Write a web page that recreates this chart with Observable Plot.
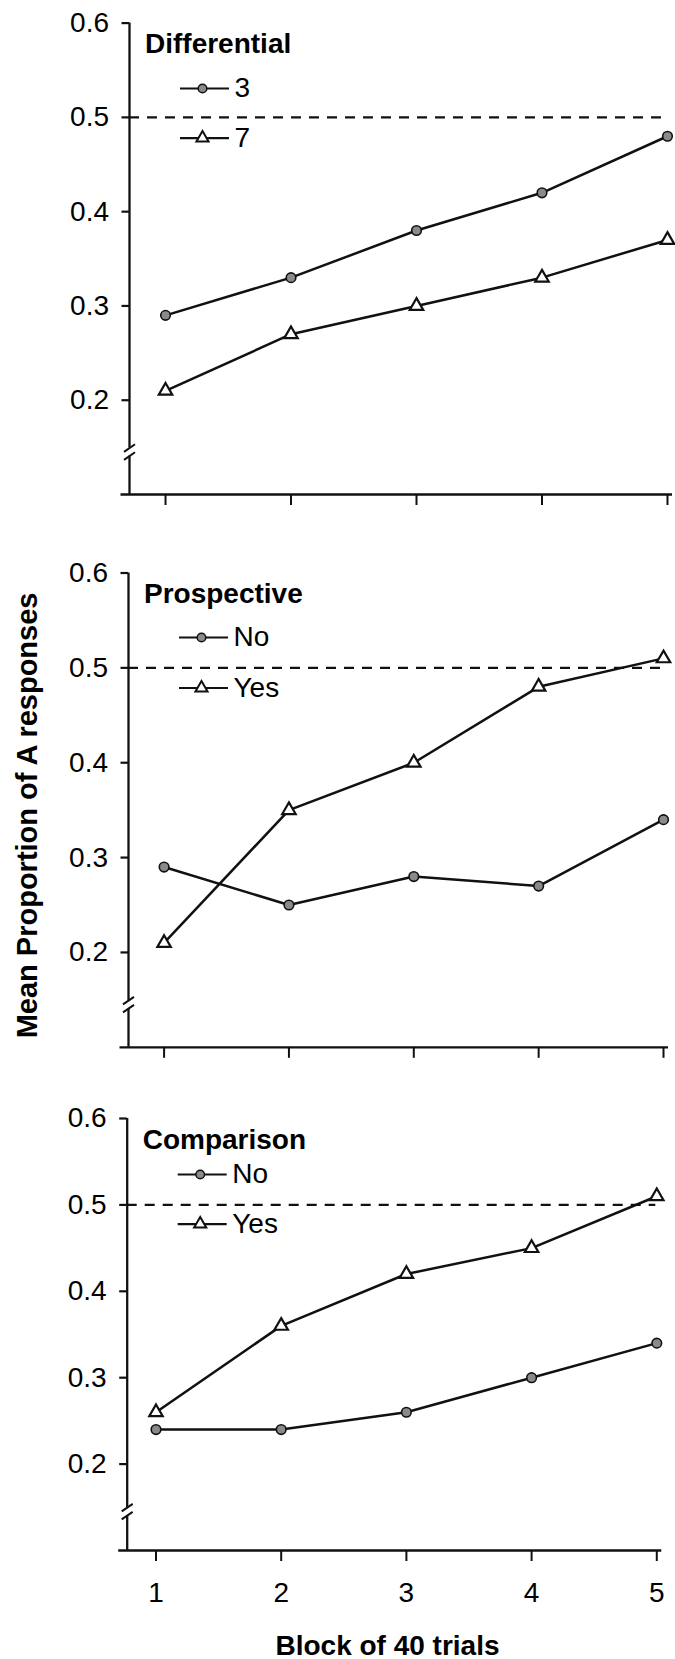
<!DOCTYPE html>
<html>
<head>
<meta charset="utf-8">
<script src="https://cdn.jsdelivr.net/npm/d3@7"></script>
<script src="https://cdn.jsdelivr.net/npm/@observablehq/plot@0.6"></script>
<style>
  html, body { margin: 0; padding: 0; background: #fff; }
  #chart { position: relative; width: 675px; height: 1659px; background: #fff; }
  #chart > div { position: absolute; left: 0; }
</style>
</head>
<body>
<div id="chart"></div>
<script>
// ---- data ----
const blocks = [1, 2, 3, 4, 5];
const yTicks = [0.2, 0.3, 0.4, 0.5, 0.6];
const panelTitles = ["Differential", "Prospective", "Comparison"];

const differentialSeries = ["3", "7"];
const differential3 = [0.29, 0.33, 0.38, 0.42, 0.48];
const differential7 = [0.21, 0.27, 0.30, 0.33, 0.37];

const prospectiveSeries = ["No", "Yes"];
const prospectiveNo = [0.29, 0.25, 0.28, 0.27, 0.34];
const prospectiveYes = [0.21, 0.35, 0.40, 0.48, 0.51];

const comparisonSeries = ["No", "Yes"];
const comparisonNo = [0.24, 0.24, 0.26, 0.30, 0.34];
const comparisonYes = [0.26, 0.36, 0.42, 0.45, 0.51];

const chanceLevel = 0.5;
const axisBase = 0.1;
const axisTop = 0.6;
const breakAt = 0.145;

const yTitle = "Mean Proportion of A responses";
const xTitle = "Block of 40 trials";

// ---- drawing ----
const FONT = "'Liberation Sans', Arial, Helvetica, sans-serif";
const INK = "#111";
const W = 675;
const TXT = 28;

// horizontal line symbol used for the legend keys
const hline = {
  draw(ctx, size) {
    const h = Math.sqrt(size / Math.PI);
    ctx.moveTo(-h, 0);
    ctx.lineTo(h, 0);
  }
};

function panel(cfg) {
  const {title, names, values, top, height, mL, mR, mT, mB, xDomain,
         titleDy, legendDy, xLabels, extra} = cfg;
  const rows = names.flatMap((name, i) =>
    blocks.map((b, j) => ({series: name, kind: i, block: b, value: values[i][j]})));
  const pxX = (W - mL - mR) / (xDomain[1] - xDomain[0]);
  const pxY = (height - mT - mB) / (axisTop - axisBase);
  const ax = xDomain[0];
  const gap = 4 / pxY;
  const sx = 5.5 / pxX, sy = 3.8 / pxY;
  const legend = names.map((name, i) => ({name, i, dy: legendDy[i]}));

  const marks = [
    // axis lines with break
    Plot.ruleX([ax], {y1: axisBase, y2: breakAt - gap, stroke: INK, strokeWidth: 2.3}),
    Plot.ruleX([ax], {y1: breakAt + gap, y2: axisTop, stroke: INK, strokeWidth: 2.3}),
    Plot.link([-1, 1], {x1: ax - sx, x2: ax + sx,
      y1: d => breakAt + d * gap - sy, y2: d => breakAt + d * gap + sy,
      stroke: INK, strokeWidth: 2}),
    Plot.ruleY([axisBase], {insetLeft: -8.5, stroke: INK, strokeWidth: 2.3}),
    Plot.ruleY([chanceLevel], {stroke: INK, strokeWidth: 2.3, strokeDasharray: "10,8", insetRight: 6}),
    Plot.axisY({ticks: yTicks, label: null, tickSize: 7.5, tickPadding: 13, tickFormat: d3.format(".1f"),
      fontSize: TXT, stroke: INK, strokeWidth: 2.2, fill: "#000"}),
    Plot.axisX({ticks: blocks, label: null, tickSize: 11, tickPadding: 21,
      tickFormat: xLabels ? (d => String(d)) : (() => ""),
      fontSize: TXT, stroke: INK, strokeWidth: 2, fill: "#000"}),
    // data
    Plot.line(rows, {x: "block", y: "value", z: "series", stroke: INK, strokeWidth: 2.5}),
    Plot.dot(rows.filter(d => d.kind === 0), {x: "block", y: "value", symbol: "circle", r: 4.8,
      fill: "#8a8a8a", stroke: INK, strokeWidth: 1.6}),
    Plot.dot(rows.filter(d => d.kind === 1), {x: "block", y: "value", symbol: "triangle", r: 5,
      fill: "white", stroke: INK, strokeWidth: 2.2}),
    // panel title
    Plot.text([title], {frameAnchor: "top-left", dx: 15.5, dy: titleDy, lineAnchor: "bottom",
      textAnchor: "start", fontWeight: "bold", fontSize: 28, fill: "#000"})
  ];
  // legend entries
  legend.forEach(e => {
    marks.push(Plot.dot([e], {frameAnchor: "top-left", dx: 75, dy: e.dy, symbol: hline, r: 24.5,
      fill: "none", stroke: INK, strokeWidth: 2.2}));
    marks.push(Plot.dot([e], {frameAnchor: "top-left", dx: 73, dy: e.dy,
      symbol: e.i === 0 ? "circle" : "triangle", r: e.i === 0 ? 4.3 : 4.5,
      fill: e.i === 0 ? "#8a8a8a" : "white", stroke: INK, strokeWidth: e.i === 0 ? 1.5 : 2}));
    marks.push(Plot.text([e], {frameAnchor: "top-left", dx: 105, dy: e.dy, text: "name",
      lineAnchor: "middle", textAnchor: "start", fontSize: TXT, fill: "#000"}));
  });
  if (extra) marks.push(...extra);

  const svg = Plot.plot({
    width: W, height,
    marginLeft: mL, marginRight: mR, marginTop: mT, marginBottom: mB,
    x: {domain: xDomain, axis: null},
    y: {domain: [axisBase, axisTop], axis: null},
    style: {fontFamily: FONT, fontSize: TXT + "px", color: "#000", background: "white", overflow: "visible"},
    marks
  });
  const holder = document.createElement("div");
  holder.style.top = top + "px";
  holder.appendChild(svg);
  document.getElementById("chart").appendChild(holder);
}

panel({
  title: panelTitles[0], names: differentialSeries, values: [differential3, differential7],
  top: 0, height: 520, mL: 129, mR: 3, mT: 22.6, mB: 26, xDomain: [0.713, 5.04],
  titleDy: 29.8, legendDy: [65.4, 115], xLabels: false
});

panel({
  title: panelTitles[1], names: prospectiveSeries, values: [prospectiveNo, prospectiveYes],
  top: 520, height: 540, mL: 128, mR: 7, mT: 52.5, mB: 13.2, xDomain: [0.715, 5.04],
  titleDy: 30, legendDy: [64.5, 115], xLabels: false,
  extra: [
    Plot.text([yTitle], {frameAnchor: "left", rotate: -90, dx: -91.5, dy: 5.3,
      lineAnchor: "bottom", textAnchor: "middle", fontWeight: "bold", fontSize: 29, fill: "#000"})
  ]
});

panel({
  title: panelTitles[2], names: comparisonSeries, values: [comparisonNo, comparisonYes],
  top: 1060, height: 599, mL: 126.7, mR: 13.7, mT: 58, mB: 109, xDomain: [0.77, 5.04],
  titleDy: 30.6, legendDy: [56, 105.6], xLabels: true,
  extra: [
    Plot.text([xTitle], {frameAnchor: "bottom", dx: -7, dy: 104, lineAnchor: "bottom",
      textAnchor: "middle", fontWeight: "bold", fontSize: 28, fill: "#000"})
  ]
});
</script>
</body>
</html>
